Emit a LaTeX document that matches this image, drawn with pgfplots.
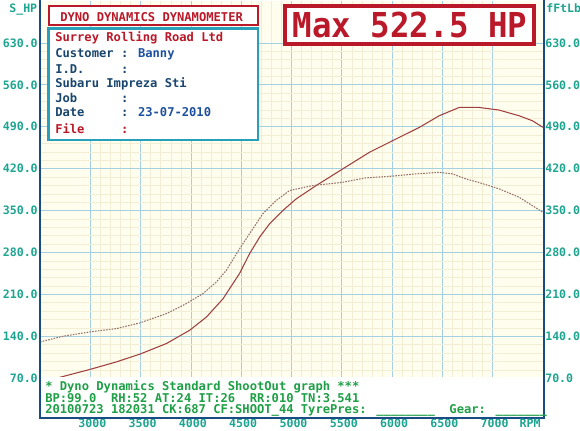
\documentclass[border=0pt]{standalone}
\usepackage{pgfplots}
\pgfplotsset{compat=1.18}
\usepackage{graphicx}
\usepackage{fontspec}
\setmainfont{DejaVu Sans Mono}
\definecolor{cream}{RGB}{255,253,238}
\definecolor{majgrid}{RGB}{165,208,226}
\definecolor{mingrid}{RGB}{242,238,214}
\definecolor{frameblue}{RGB}{25,75,135}
\definecolor{ticktxt}{RGB}{30,165,145}
\definecolor{foottxt}{RGB}{30,160,70}
\definecolor{powercol}{RGB}{160,65,65}
\definecolor{torquecol}{RGB}{150,115,105}
\definecolor{redtxt}{RGB}{185,25,40}
\definecolor{navytxt}{RGB}{25,70,110}
\definecolor{bluetxt}{RGB}{30,80,160}
\definecolor{tealbox}{RGB}{40,160,185}
\begin{document}
\begin{tikzpicture}[x=0.75pt,y=-0.75pt]
\useasboundingbox (0,0) rectangle (580,430);
\begin{axis}[
  at={(30pt,-315pt)}, anchor=south west,
  scale only axis, width=377.25pt, height=314.25pt,
  xmin=2500, xmax=7500, ymin=0, ymax=700,
  xtick={3000,3500,4000,4500,5000,5500,6000,6500,7000},
  xticklabels={3000,3500,4000,4500,5000,5500,6000,6500,7000},
  ytick={70,140,210,280,350,420,490,560,630},
  yticklabels={70.0,140.0,210.0,280.0,350.0,420.0,490.0,560.0,630.0},
  minor x tick num=4, minor y tick num=4,
  grid=both,
  major grid style={draw=majgrid, line width=0.6pt},
  minor grid style={draw=mingrid, line width=0.35pt},
  axis background/.style={fill=cream},
  axis line style={draw=none},
  major tick length=0pt, minor tick length=0pt,
  tick label style={font=\fontsize{8.7}{9}\selectfont\bfseries, text=ticktxt},
  xticklabel style={inner sep=0pt, yshift=1pt, xshift=1.5pt},
  yticklabel style={inner sep=1.5pt},
]
\addplot[powercol, line width=0.8pt] coordinates {
(2540,68) (2629,68.3) (2996,84.5) (3261,97.2) (3492,110) (3757,127.8)
(3988,150) (4154,172) (4319,202.5) (4484,245) (4583,277.8) (4683,305.5)
(4782,327.8) (4914,350) (5047,369.5) (5245,391.7) (5509,419.5) (5774,447.2)
(6005,466.7) (6270,488.8) (6468,508.3) (6667,522.2) (6865,522.2) (7064,517.8)
(7262,508.3) (7394,500) (7500,489)
};
\addplot[torquecol, line width=0.8pt, dash pattern=on 1.2pt off 0.9pt] coordinates {
(2500,130.5) (2731,140) (2996,147.2) (3261,152.8) (3492,162.2) (3757,177.8)
(3955,194.5) (4120,211.2) (4253,230.5) (4352,250) (4484,286.2) (4616,319.5)
(4715,344.5) (4848,366.7) (4980,383.3) (5211,391.7) (5509,397.2) (5741,404.5)
(6005,407.5) (6237,411.2) (6468,413.8) (6600,411.2) (6733,402.8) (6865,396.7)
(7064,386.2) (7262,372.2) (7500,347)
};
\end{axis}
\begin{axis}[
  at={(30pt,-315pt)}, anchor=south west,
  scale only axis, width=377.25pt, height=314.25pt,
  xmin=2500, xmax=7500, ymin=0, ymax=700,
  hide x axis,
  axis line style={draw=none},
  ytick={70,140,210,280,350,420,490,560,630},
  yticklabels={70.0,140.0,210.0,280.0,350.0,420.0,490.0,560.0,630.0},
  yticklabel pos=right,
  major tick length=0pt,
  tick label style={font=\fontsize{8.7}{9}\selectfont\bfseries, text=ticktxt},
  yticklabel style={inner sep=1.5pt},
]
\end{axis}
% footer box and frame
\fill[white] (39.5,377) rectangle (543.5,418);
\draw[frameblue, line width=1.5pt] (39.5,0) -- (39.5,418) -- (543.5,418) -- (543.5,0);
\node[anchor=base, font=\fontsize{8.7}{9}\selectfont\bfseries, text=ticktxt, inner sep=0pt] at (530,427.2) {RPM};
\node[anchor=base east, font=\fontsize{8.7}{9}\selectfont\bfseries, text=ticktxt, inner sep=0pt] at (37.5,12) {S\_HP};
\node[anchor=base west, font=\fontsize{8.7}{9}\selectfont\bfseries, text=ticktxt, inner sep=0pt] at (546,12) {fFtLb};
% footer text
\begin{scope}[every node/.style={anchor=base west, inner sep=0pt, font=\fontsize{9.1}{10}\selectfont\bfseries, text=foottxt}]
\node at (45,390) {* Dyno Dynamics Standard ShootOut graph ***};
\node at (45,402) {BP:99.0~~RH:52 AT:24 IT:26~~RR:010 TN:3.541};
\node at (45,413) {20100723 182031 CK:687 CF:SHOOT\_44 TyrePres: \_\_\_\_\_\_\_\_~~Gear: \_\_\_\_\_\_\_};
\end{scope}
% header boxes
\draw[redtxt, line width=1.5pt, fill=white] (49,6) rectangle (258,25);
\node[anchor=base west, inner sep=0pt, font=\fontsize{9.1}{10}\selectfont\bfseries, text=redtxt] at (60,21) {DYNO DYNAMICS DYNAMOMETER};
\draw[tealbox, line width=1.8pt, fill=white] (48.5,28.5) rectangle (258,140);
\begin{scope}[every node/.style={anchor=base west, inner sep=0pt, font=\fontsize{9.1}{10}\selectfont\bfseries, text=navytxt}]
\node[text=redtxt] at (55,41) {Surrey Rolling Road Ltd};
\node at (55,57.5) {Customer : \textcolor{bluetxt}{Banny}};
\node at (55,73) {I.D.~~~~~:};
\node at (55,87) {Subaru Impreza Sti};
\node at (55,102) {Job~~~~~~:};
\node at (55,116) {Date~~~~~: \textcolor{bluetxt}{23-07-2010}};
\node[text=redtxt] at (55,133) {File~~~~~:};
\end{scope}
\draw[redtxt, line width=2.4pt, fill=white] (285,6) rectangle (534,44);
\node[anchor=base, inner sep=0pt, font=\fontsize{24.3}{26}\selectfont\bfseries, text=redtxt] at (410,37) {\scalebox{1}[1.06]{Max 522.5 HP}};
\end{tikzpicture}
\end{document}
